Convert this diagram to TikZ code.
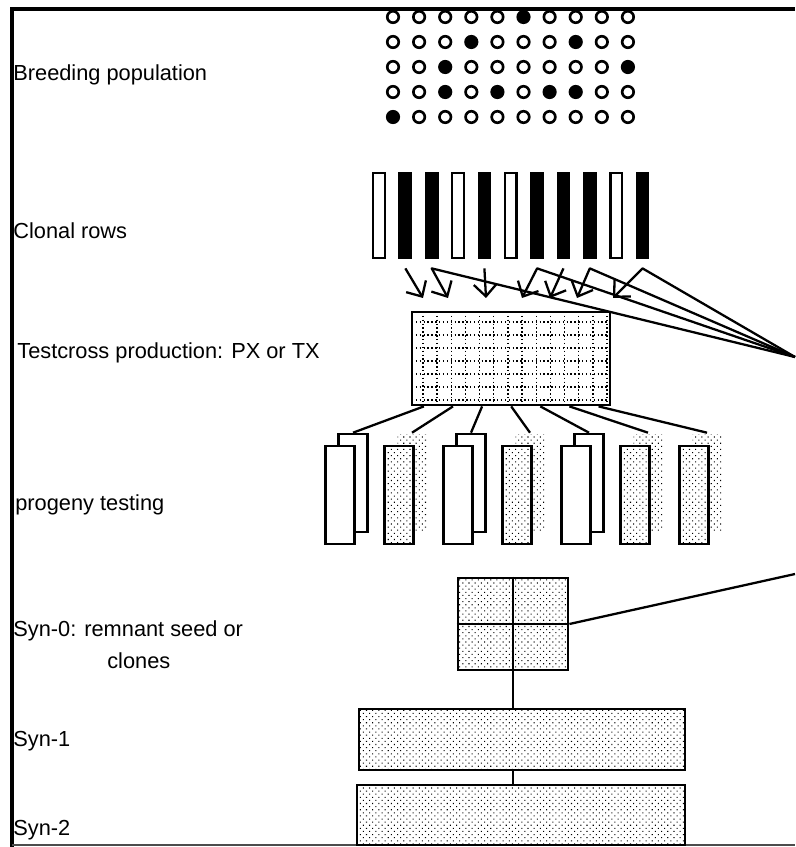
\documentclass[tikz,border=0pt]{standalone}
\usepackage{fontspec}
\setmainfont{Liberation Sans}
\usetikzlibrary{calc,positioning,arrows.meta,patterns.meta}

\tikzset{
  plant/.style={circle, draw, line width=1.5pt, minimum size=0.23cm, inner sep=0pt},
  clone/.style={draw, line width=1.3pt, minimum width=0.23cm, minimum height=1.71cm, inner sep=0pt},
  plot/.style={draw, line width=1.5pt, minimum width=0.58cm, minimum height=1.96cm, inner sep=0pt},
  dotty/.style={pattern={Dots[distance=2.5pt, radius=0.42pt, angle=45]}, pattern color=black},
  pool/.style={draw, line width=1.6pt, fill=white, postaction={dotty}, inner sep=0pt},
  link/.style={line width=1.3pt},
  grid/.style={line width=0.8pt, dash pattern=on 0.8pt off 1.4pt},
  cross/.style={line width=1.3pt, line join=round, -{Straight Barb[length=2.4mm, width=4.6mm]}},
  stage/.style={anchor=base west, inner sep=0pt, font=\fontsize{12.4}{15}\selectfont},
}

\begin{document}
\begin{tikzpicture}[x=0.02cm, y=-0.02cm]
  \useasboundingbox (0,0) rectangle (795,847);

  % Frame
  \draw[line width=2.4pt] (12,847) -- (12,9) -- (795,9);
  \draw[gray!60!black, line width=0.6pt] (12,845) -- (795,845);

  % Stage labels
  \node[stage] (lbl-pop) at (13,81) {Breeding population};
  \node[stage] (lbl-rows) at (13,239) {Clonal rows};
  \node[stage] (lbl-tc) at (17,358) {Testcross production: PX or TX};
  \node[stage] (lbl-prog) at (15,510) {progeny testing};
  \node[stage] (lbl-syn0) at (13,636) {Syn-0: remnant seed or};
  \node[stage] (lbl-syn0b) at (107,668) {clones};
  \node[stage] (lbl-syn1) at (13,746) {Syn-1};
  \node[stage] (lbl-syn2) at (13,835) {Syn-2};

  % Breeding population
  \foreach \row [count=\r] in {{0,0,0,0,0,1,0,0,0,0},{0,0,0,1,0,0,0,1,0,0},{0,0,1,0,0,0,0,0,0,1},{0,0,1,0,1,0,1,1,0,0},{1,0,0,0,0,0,0,0,0,0}} {
    \foreach \f [count=\c] in \row {
      \ifnum\f=1 \def\col{black}\else\def\col{white}\fi
      \node[plant, fill=\col] (plant-\r-\c) at ({393+26.1*(\c-1)},{17+25*(\r-1)}) {};
    }
  }

  % Clonal rows
  \foreach \f [count=\i] in {0,1,1,0,1,0,1,1,1,0,1} {
    \ifnum\f=1 \def\col{black}\else\def\col{white}\fi
    \node[clone, fill=\col] (row\i) at ({379+26.35*(\i-1)},215.5) {};
  }

  % Crosses into the testcross block
  \coordinate (src) at (795,357);
  \foreach \i/\tx in {2/423, 5/486, 8/550} {
    \coordinate (tip\i) at (\tx,298);
    \draw[cross] ($(row\i.south)+(0,9)$) -- (tip\i);
  }
  \foreach \i/\tx in {3/448, 7/522, 9/577, 11/613} {
    \coordinate (tip\i) at (\tx,298);
    \draw[cross] (src) -- ($(row\i.south)+(0,9)$) -- (tip\i);
  }

  % Testcross block
  \foreach \k in {0,...,13}
    \draw[grid] ({423+14.15*\k},312) -- ({423+14.15*\k},405);
  \foreach \k in {0,...,6}
    \draw[grid] (412,{322+13*\k}) -- (610,{322+13*\k});
  \node[draw, line width=1.6pt, minimum width=3.96cm, minimum height=1.86cm, inner sep=0pt] (tc) at (511,358.5) {};

  % Progeny plots
  \foreach \t [count=\k] in {0,1,0,1,0,1,1} {
    \ifnum\t=1
      \node[plot, draw=none, dotty] (back\k) at ({353+59*(\k-1)},483) {};
      \node[plot, fill=white, postaction={dotty}] (front\k) at ({340+59*(\k-1)},495) {};
    \else
      \node[plot, fill=white] (back\k) at ({353+59*(\k-1)},483) {};
      \node[plot, fill=white] (front\k) at ({340+59*(\k-1)},495) {};
    \fi
  }
  \foreach \k in {1,...,7} {
    \pgfmathsetmacro\fr{0.066+0.145*(\k-1)}
    \draw[link] ($(tc.south west)!\fr!(tc.south east)$) -- (back\k.north);
  }

  % Synthetics
  \node[pool, minimum width=2.2cm, minimum height=1.84cm] (syn0) at (513,624) {};
  \draw[link] (syn0.north) -- (syn0.south);
  \draw[link] (syn0.west) -- (syn0.east);
  \coordinate (src2) at (795,574);
  \draw[link] (syn0.east) -- (src2);

  \node[pool, minimum width=6.52cm, minimum height=1.22cm] (syn1) at (522,739.5) {};
  \node[pool, minimum width=6.56cm, minimum height=1.2cm] (syn2) at (521,815) {};
  \draw[link] (syn0.south) -- (syn0.south |- syn1.north);
  \draw[link] (syn0.south |- syn1.south) -- (syn0.south |- syn2.north);
\end{tikzpicture}
\end{document}
